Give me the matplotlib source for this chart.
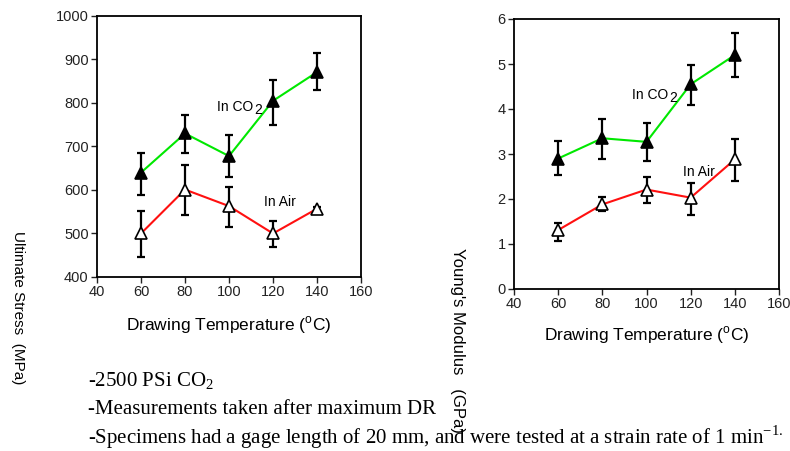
import matplotlib
matplotlib.use("Agg")
from matplotlib import pyplot as plt
import numpy as np

# Datos
temp = [60, 80, 100, 120, 140]

# Ultimate stress (MPa)
stress_co2 = [640, 730, 678, 805, 871]
stress_co2_lo = [588, 684, 630, 749, 829]
stress_co2_hi = [685, 772, 726, 854, 915]
stress_air = [500, 601, 563, 500, 557]
stress_air_lo = [446, 542, 515, 469, 552]
stress_air_hi = [551, 657, 606, 528, 562]

# Young's modulus (GPa)
mod_co2 = [2.90, 3.35, 3.27, 4.55, 5.20]
mod_co2_lo = [2.53, 2.89, 2.84, 4.09, 4.71]
mod_co2_hi = [3.29, 3.78, 3.69, 4.98, 5.69]
mod_air = [1.31, 1.88, 2.21, 2.03, 2.88]
mod_air_lo = [1.07, 1.73, 1.92, 1.64, 2.40]
mod_air_hi = [1.47, 2.04, 2.49, 2.35, 3.34]

notes = ["-2500 PSi CO$_2$",
         "-Measurements taken after maximum DR",
         "-Specimens had a gage length of 20 mm, and were tested at a strain rate of 1 min$^{-1.}$"]

plt.rcParams["font.family"] = ["Liberation Sans", "DejaVu Sans"]
plt.rcParams["mathtext.fontset"] = "custom"
plt.rcParams["mathtext.rm"] = "Liberation Serif"
plt.rcParams["mathtext.sf"] = "Liberation Sans"

W, H = 790, 451
fig = plt.figure(figsize=(W/100, H/100), dpi=100)


def panel(rect, y1, y1lo, y1hi, y2, y2lo, y2hi, ylim, yticks, ylabel, ylab_x, ylab_y, ylab_fs, xlab_y, txt_co2, txt_air):
    ax = fig.add_axes([rect[0]/W, 1-rect[3]/H, (rect[2]-rect[0])/W, (rect[3]-rect[1])/H])
    for y, lo, hi, c, fc in [(y1, y1lo, y1hi, "#00e800", "black"), (y2, y2lo, y2hi, "#ff1010", "white")]:
        y = np.array(y); lo = np.array(lo); hi = np.array(hi)
        ax.plot(temp, y, color=c, lw=1.5, zorder=2)
        ax.errorbar(temp, y, yerr=[y-lo, hi-y], fmt="none", ecolor="black", elinewidth=1.6, capsize=3, capthick=1.6, zorder=3)
        ax.plot(temp, y, ls="none", marker="^", ms=8, mfc=fc, mec="black", mew=1.2, zorder=4)
    ax.set_xlim(40, 160)
    ax.set_xticks([40, 60, 80, 100, 120, 140, 160])
    ax.set_ylim(*ylim)
    ax.set_yticks(yticks)
    ax.tick_params(labelsize=10.5, length=4, width=1, direction="out", pad=2, colors="#222222")
    for s in ax.spines.values():
        s.set_linewidth(1.3)
    fig.text(ylab_x/W, 1-ylab_y/H, ylabel, rotation=270, ha="center", va="center", fontsize=ylab_fs)
    fig.text((rect[0]+rect[2])/2/W, 1-xlab_y/H, "Drawing Temperature ($^{\\mathsf{o}}$C)", ha="center", va="center", fontsize=12.5)
    ax.text(txt_co2[0], txt_co2[1], "In CO", fontsize=10, ha="left", va="center")
    ax.text(txt_air[0], txt_air[1], "In Air", fontsize=10, ha="left", va="center")
    return ax


ax1 = panel([97, 16, 361, 277], stress_co2, stress_co2_lo, stress_co2_hi,
            stress_air, stress_air_lo, stress_air_hi, (400, 1000), range(400, 1001, 100),
            "Ultimate Stress  (MPa)", 18, 308, 11, 325, (94.5, 790), (116, 572))
ax1.text(111.5, 783, "2", fontsize=10, ha="left", va="center")

ax2 = panel([514, 19, 779, 289], mod_co2, mod_co2_lo, mod_co2_hi,
            mod_air, mod_air_lo, mod_air_hi, (0, 6), range(0, 7),
            "Young's Modulus   (GPa)", 458, 340, 12, 335, (93.5, 4.32), (116.5, 2.6))
ax2.text(110.3, 4.24, "2", fontsize=10, ha="left", va="center")

for i, t in enumerate(notes):
    fig.text(88/W, 1-(381 + 28*i)/H, t, family="Liberation Serif", fontsize=15, ha="left", va="center")

fig.savefig("out.png", dpi=100)
